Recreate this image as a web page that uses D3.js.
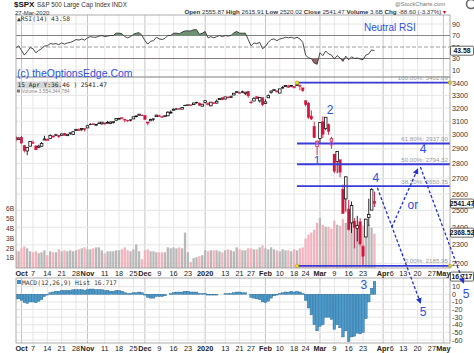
<!DOCTYPE html>
<html><head><meta charset="utf-8">
<script src="https://cdn.jsdelivr.net/npm/d3@7"></script>
<style>
body{margin:0;background:#fff}
svg{display:block}
text{font-family:"Liberation Sans",Arial,sans-serif}
.mono{font-family:"DejaVu Sans Mono","Liberation Mono",monospace}
</style>
</head><body>
<svg id="chart" width="474" height="353"></svg>
<script>
// ---------------- DATA ----------------
const firstDay = "2019-09-27", lastAxisDay = "2020-05-05";
const holidays = ["2019-11-28","2019-12-25","2020-01-01","2020-01-20","2020-02-17","2020-04-10"];
const prevCloseBeforeFirst = 2977.62;

const open = [
 2985.47,2967.07,2983.69,2924.78,2885.38,2918.56,
 2944.23,2920.40,2911.10,2918.55,2963.07,
 2965.81,2973.61,2989.68,3000.77,2996.84,
 2996.48,3010.73,2994.01,3014.78,3003.32,
 3032.12,3035.39,3039.74,3046.90,3050.72,
 3078.96,3080.80,3075.10,3087.02,3081.25,
 3080.33,3089.28,3084.18,3090.75,3107.92,
 3117.91,3127.45,3114.66,3108.49,3111.41,
 3117.44,3134.85,3145.49,3147.18,
 3143.85,3087.41,3103.50,3119.21,3134.62,
 3141.86,3135.36,3135.75,3141.23,3166.65,
 3183.63,3195.40,3195.21,3192.32,3223.33,
 3226.05,3225.45,3227.20,3247.23,
 3240.09,3215.18,3244.67,3226.36,
 3217.55,3241.86,3238.59,3266.03,3281.81,
 3271.13,3285.35,3282.27,3302.97,3323.66,
 3321.03,3330.02,3315.77,3333.10,
 3247.16,3255.35,3289.46,3256.45,3282.33,
 3235.66,3280.61,3324.91,3344.92,3335.54,
 3318.28,3365.87,3370.50,3365.90,3378.08,
 3369.04,3380.39,3380.45,3360.50,
 3257.61,3238.94,3139.90,3062.54,2916.90,
 2974.28,3096.46,3045.75,3075.70,2954.20,
 2863.89,2813.48,2825.60,2630.86,2569.99,
 2508.59,2425.66,2436.50,2393.48,2431.94,
 2290.71,2344.44,2457.77,2501.29,2555.87];
const high = [
 2987.28,2983.22,2992.53,2924.78,2911.13,2953.74,
 2959.75,2925.47,2929.32,2948.46,2993.28,
 2972.84,3003.28,2997.54,3008.29,3000.00,
 3007.33,3014.57,3004.78,3016.07,3027.39,
 3044.08,3047.87,3050.10,3046.90,3066.95,
 3085.20,3083.95,3078.34,3097.77,3093.09,
 3088.33,3102.61,3098.06,3097.20,3120.46,
 3124.17,3127.64,3118.97,3110.11,3112.87,
 3133.83,3142.69,3154.26,3150.30,
 3144.31,3094.97,3119.38,3119.45,3150.60,
 3148.87,3142.12,3143.98,3176.28,3182.68,
 3197.71,3198.22,3198.48,3205.48,3225.65,
 3227.78,3226.43,3240.08,3247.93,
 3240.92,3231.72,3258.14,3246.15,
 3246.84,3244.91,3267.07,3275.58,3282.99,
 3288.13,3294.25,3298.66,3317.11,3329.88,
 3329.79,3337.77,3326.88,3333.18,
 3258.85,3285.78,3293.47,3285.91,3282.33,
 3268.44,3306.92,3337.58,3347.96,3341.42,
 3352.26,3375.63,3381.47,3385.09,3380.69,
 3375.01,3393.52,3389.15,3360.76,
 3259.81,3246.99,3182.51,3097.07,2959.72,
 3090.96,3136.72,3130.97,3083.04,2985.93,
 2863.89,2882.59,2825.60,2660.95,2711.33,
 2562.98,2553.93,2453.57,2466.97,2453.01,
 2300.73,2449.71,2571.42,2637.01,2615.91];
const low = [
 2945.53,2967.07,2938.70,2874.93,2855.94,2918.56,
 2935.68,2892.66,2907.41,2917.12,2963.07,
 2962.94,2973.61,2985.20,2991.79,2976.31,
 2995.35,2995.04,2991.21,3000.42,3001.94,
 3032.12,3034.81,3025.96,3023.19,3050.72,
 3074.87,3072.15,3065.89,3080.23,3073.58,
 3075.82,3084.73,3078.80,3083.26,3104.60,
 3112.06,3113.47,3091.41,3094.55,3099.26,
 3117.44,3131.00,3143.41,3139.34,
 3110.78,3070.33,3102.53,3103.76,3134.62,
 3135.46,3126.09,3133.21,3138.47,3156.51,
 3183.63,3191.03,3191.14,3192.32,3216.03,
 3222.30,3220.51,3227.20,3234.37,
 3216.57,3212.03,3235.53,3222.34,
 3214.64,3232.43,3236.67,3263.67,3260.86,
 3268.43,3277.19,3280.69,3302.82,3318.86,
 3316.61,3320.04,3301.87,3281.53,
 3234.50,3253.22,3271.89,3242.80,3214.68,
 3235.66,3280.61,3313.75,3334.39,3322.12,
 3317.77,3352.72,3369.72,3360.52,3366.15,
 3355.61,3378.83,3341.02,3328.45,
 3214.65,3118.77,3108.99,2977.39,2855.84,
 2945.19,2976.63,3034.38,2999.83,2901.54,
 2734.43,2734.00,2707.22,2478.86,2492.37,
 2380.94,2367.04,2280.52,2319.78,2295.56,
 2191.86,2344.44,2407.53,2500.72,2520.02];
const close = [
 2961.79,2976.74,2940.25,2887.61,2910.63,2952.01,
 2938.79,2893.06,2919.40,2938.13,2970.27,
 2966.15,2995.68,2989.69,2997.95,2986.20,
 3006.72,2995.99,3004.52,3010.29,3022.55,
 3039.42,3036.89,3046.77,3037.56,3066.91,
 3078.27,3074.62,3076.78,3085.18,3093.08,
 3087.01,3091.84,3094.04,3096.63,3120.46,
 3122.03,3120.18,3108.46,3103.54,3110.29,
 3133.64,3140.52,3153.63,3140.98,
 3113.87,3093.20,3112.76,3117.43,3145.91,
 3135.96,3132.52,3141.63,3168.57,3168.80,
 3191.45,3192.52,3191.14,3205.37,3221.22,
 3224.01,3223.38,3239.91,3240.02,
 3221.29,3230.78,3257.85,3234.85,
 3246.28,3237.18,3253.05,3274.70,3265.35,
 3288.13,3283.15,3289.29,3316.81,3329.62,
 3320.79,3321.75,3325.54,3295.47,
 3243.63,3276.24,3273.40,3283.66,3225.52,
 3248.92,3297.59,3334.69,3345.78,3327.71,
 3352.09,3357.75,3379.45,3373.94,3380.16,
 3370.29,3386.15,3373.23,3337.75,
 3225.89,3128.21,3116.39,2978.76,2954.22,
 3090.23,3003.37,3130.12,3023.94,2972.37,
 2746.56,2882.23,2741.38,2480.64,2711.02,
 2386.13,2529.19,2398.10,2409.39,2304.92,
 2237.40,2447.33,2475.56,2630.07,2541.47];
// volume in billions of shares
const volume = [
 1.8,1.7,2.0,2.2,2.0,1.7,
 1.6,1.7,1.5,1.6,1.8,
 1.3,1.7,1.6,1.6,1.9,
 1.7,1.8,1.7,1.8,1.7,
 1.8,1.9,2.0,2.1,1.9,
 1.9,2.0,2.1,2.1,1.8,
 1.5,1.7,1.7,1.7,1.8,
 1.8,1.9,2.1,1.8,1.7,
 1.9,2.4,1.7,0.9,
 1.8,1.9,1.7,1.7,1.6,
 1.6,1.6,1.6,2.1,2.0,
 2.1,2.0,2.1,2.0,3.6,
 1.6,0.6,1.0,1.1,
 1.2,1.3,1.8,1.7,
 1.8,1.8,1.8,1.7,1.6,
 1.8,1.9,1.8,1.7,2.1,
 1.9,1.8,1.8,2.0,
 2.0,1.9,1.9,2.1,2.3,
 2.0,1.9,2.1,1.9,1.8,
 1.7,1.9,1.8,1.8,1.7,
 1.9,1.8,2.0,2.1,
 3.0,3.4,3.6,3.9,4.6,
 5.1,4.4,4.2,4.2,4.0,
 4.8,4.4,4.3,5.0,4.6,
 4.3,4.7,4.8,4.4,4.6,
 4.3,4.6,4.4,4.1,3.5];
const rsi = [
 48,52,44,36,42,49,
 47,40,44,47,52,
 52,56,55,56,54,
 57,55,57,58,60,
 63,62,64,62,66,
 68,67,67,69,70,
 68,69,70,70,74,
 74,73,68,66,68,
 72,74,75,70,
 61,55,60,61,67,
 64,63,65,70,70,
 74,74,73,76,78,
 78,78,80,80,
 72,74,77,66,
 68,66,68,70,68,
 70,69,70,75,77,
 74,74,74,63,
 52,57,56,58,47,
 51,58,63,64,61,
 64,65,67,66,67,
 65,67,64,58,
 36,31,30,22,20,
 40,35,43,38,36,
 29,35,31,25,34,
 28,33,30,31,29,
 28,36,38,45,43.58];
const macdHist = [
 -6,-6,-8,-11,-12,-10,
 -10,-11,-9,-7,-3,
 -1,2,3,4,4,
 5,5,5,5,6,
 6,6,6,5,6,
 7,7,6,6,6,
 5,5,4,4,5,
 5,4,2,1,1,
 2,2,3,2,
 -1,-4,-5,-5,-3,
 -3,-3,-2,0,1,
 2,3,3,3,4,
 4,3,3,3,
 1,1,1,-1,
 -1,-1,-1,0,0,
 1,1,1,2,3,
 3,2,2,0,
 -4,-5,-6,-7,-10,
 -11,-9,-5,-2,-1,
 1,2,3,3,4,
 3,4,3,1,
 -8,-18,-27,-40,-48,
 -42,-40,-30,-30,-33,
 -46,-40,-44,-56,-48,
 -62,-56,-55,-51,-52,
 -50,-32,-10,8,16.717];

const tickDates = ["2019-10-01","2019-10-07","2019-10-14","2019-10-21","2019-10-28","2019-11-01","2019-11-11","2019-11-18","2019-11-25","2019-12-02","2019-12-09","2019-12-16","2019-12-23","2020-01-02","2020-01-13","2020-01-21","2020-01-27","2020-02-03","2020-02-10","2020-02-18","2020-02-24","2020-03-02","2020-03-09","2020-03-16","2020-03-23","2020-04-01","2020-04-06","2020-04-13","2020-04-20","2020-04-27","2020-05-01"];
const tickLabels = ["Oct","7","14","21","28","Nov","11","18","25","Dec","9","16","23","2020","13","21","27","Feb","10","18","24","Mar","9","16","23","Apr","6","13","20","27","May"];
const majorLabels = ["Oct","Nov","Dec","2020","Feb","Mar","Apr","May"];
const priceTicks = [2200,2300,2400,2500,2600,2700,2800,2900,3000,3100,3200,3300,3400];
const rsiTicks = [10,30,50,70,90];
const volTicks = [1,2,3,4,5,6];
const volTickLabels = ["1B","2B","3B","4B","5B","6B"];
const macdTicks = [10,0,-10,-20,-30,-40,-50,-60];

const fibStartDate = "2020-02-19";
const fibPct = ["100.00%","61.80%","50.00%","38.20%","0.00%"];
const fibPrice = [3402.89,2937.90,2794.32,2650.75,2185.95];

// Elliott-wave projections: [sessions after last bar, price]
const projA = [[1,2640],[16,2000]];
const projUp = [[6,2400],[15,2760]];
const projB = [[16,2776],[31,2100]];
// wave labels: [text, bar index (fractional), price]
const waveText = ["2","1","3","4","4","or","5","5"];
const waveIdx = [109.5,105,121.3,125.5,141.9,138.4,141.9,156.9];
const wavePrice = [3185,2817,2088,2704,2900,2532,1956,2045];

// ---------------- LAYOUT ----------------
const svg = d3.select("#chart");
const L = 16, R = 450;
const P = {rsi:[15,77], main:[77,268], macd:[278,343]};

// trading-day categories
const days = [];
{
  let d = new Date(firstDay + "T00:00:00Z");
  const end = new Date(lastAxisDay + "T00:00:00Z");
  while (d <= end) {
    const s = d.toISOString().slice(0,10), w = d.getUTCDay();
    if (w !== 0 && w !== 6 && !holidays.includes(s)) days.push(s);
    d.setUTCDate(d.getUTCDate() + 1);
  }
}
const dayIdx = new Map(days.map((d,i)=>[d,i]));
const N = close.length;
const x = d3.scaleLinear().domain([0, N-1]).range([15.76, 374.5]);
const yP = d3.scaleLog().domain([2200,3400]).range([263.3,83]);
const yV = d3.scaleLinear().domain([0,6]).range([268,209]);
const yR = d3.scaleLinear().domain([0,100]).range([75.75,18.25]);
const yM = d3.scaleLinear().domain([-60,10]).range([340,286.7]);

const defs = svg.append("defs");
Object.entries(P).forEach(([k,[t,b]])=>{
  defs.append("clipPath").attr("id","clip-"+k).append("rect").attr("x",L).attr("y",t).attr("width",R-L).attr("height",b-t);
});
defs.append("clipPath").attr("id","clip-above70").append("rect").attr("x",L).attr("y",P.rsi[0]).attr("width",R-L).attr("height",yR(70)-P.rsi[0]);
defs.append("clipPath").attr("id","clip-below30").append("rect").attr("x",L).attr("y",yR(30)).attr("width",R-L).attr("height",P.rsi[1]-yR(30));
defs.append("marker").attr("id","arr").attr("viewBox","0 0 10 10").attr("refX",8).attr("refY",5)
  .attr("markerWidth",4.5).attr("markerHeight",4.5).attr("orient","auto")
  .append("path").attr("d","M0,0L10,5L0,10z").attr("fill","#2233cc");

const tickX = tickDates.map(d=>x(dayIdx.get(d)));

// grids
function vgrid(panel){
  const [t,b] = P[panel];
  svg.append("g").selectAll("line").data(tickDates).join("line")
    .attr("x1",(d,i)=>tickX[i]).attr("x2",(d,i)=>tickX[i]).attr("y1",t).attr("y2",b)
    .attr("stroke",(d,i)=>majorLabels.includes(tickLabels[i])?"#c4c4c4":"#e6e6e6").attr("stroke-width",1);
}
["rsi","main","macd"].forEach(vgrid);

// RSI panel
const gR = svg.append("g").attr("clip-path","url(#clip-rsi)");
gR.selectAll("line.h").data(rsiTicks).join("line")
  .attr("x1",L).attr("x2",R).attr("y1",d=>yR(d)).attr("y2",d=>yR(d))
  .attr("stroke",d=>(d===30||d===70)?"#8a8a8a":(d===50?"#a0a0a0":"#e6e6e6"))
  .attr("stroke-dasharray",d=>d===50?"4,2":null);
const areaTop = d3.area().x((d,i)=>x(i)).y0(yR(70)).y1(d=>yR(d));
const areaBot = d3.area().x((d,i)=>x(i)).y0(yR(30)).y1(d=>yR(d));
gR.append("g").attr("clip-path","url(#clip-above70)").append("path").datum(rsi).attr("d",areaTop).attr("fill","#55805a").attr("fill-opacity",0.85);
gR.append("g").attr("clip-path","url(#clip-below30)").append("path").datum(rsi).attr("d",areaBot).attr("fill","#8a4848").attr("fill-opacity",0.85);
gR.append("path").datum(rsi).attr("d",d3.line().x((d,i)=>x(i)).y(d=>yR(d)))
  .attr("fill","none").attr("stroke","#333").attr("stroke-width",0.9);

// MAIN panel
const gM = svg.append("g").attr("clip-path","url(#clip-main)");
gM.selectAll("line.h").data(priceTicks).join("line")
  .attr("x1",L).attr("x2",R).attr("y1",d=>yP(d)).attr("y2",d=>yP(d)).attr("stroke","#e6e6e6");
const prev = i => i===0 ? prevCloseBeforeFirst : close[i-1];
gM.append("g").selectAll("rect").data(volume).join("rect")
  .attr("x",(d,i)=>x(i)-1.2).attr("width",2.3)
  .attr("y",d=>yV(d)).attr("height",d=>yV(0)-yV(d))
  .attr("fill",(d,i)=>close[i]<prev(i)?"#f2b3bd":"#b8b8b8");

// fib lines
const fx0 = x(dayIdx.get(fibStartDate));
const gF = svg.append("g");
gF.selectAll("line").data(fibPrice).join("line")
  .attr("x1",fx0).attr("x2",R).attr("y1",d=>yP(d)).attr("y2",d=>yP(d))
  .attr("stroke","#3a3ad8").attr("stroke-width",1.8);
gF.selectAll("text").data(fibPrice).join("text")
  .attr("x",R-2).attr("y",d=>yP(d)-2.5).attr("text-anchor","end")
  .attr("font-size",6.2).attr("fill","#9a9a9a")
  .text((d,i)=>fibPct[i]+": "+d.toFixed(2));
[fibPrice[0], fibPrice[4]].forEach(p=>{
  [fx0, R].forEach(cx=>gF.append("circle").attr("cx",cx).attr("cy",yP(p)).attr("r",1.8)
    .attr("fill","#f2e41c").attr("stroke","#a09000").attr("stroke-width",0.5));
});

// candles
const gC = gM.append("g");
d3.range(N).forEach(i=>{
  const col = close[i] < prev(i) ? "#d4143c" : "#111";
  const cx = x(i);
  gC.append("line").attr("x1",cx).attr("x2",cx).attr("y1",yP(high[i])).attr("y2",yP(low[i]))
    .attr("stroke",col).attr("stroke-width",0.9);
  const top = yP(Math.max(open[i],close[i])), bot = yP(Math.min(open[i],close[i]));
  const hollow = close[i] >= open[i];
  gC.append("rect").attr("x",cx-1.3).attr("width",2.6)
    .attr("y",top).attr("height",Math.max(0.8,bot-top))
    .attr("fill",hollow?"#fff":col).attr("stroke",col).attr("stroke-width",hollow?0.8:0.3);
});

// MACD panel
const gH = svg.append("g").attr("clip-path","url(#clip-macd)");
gH.selectAll("line.h").data(macdTicks).join("line")
  .attr("x1",L).attr("x2",R).attr("y1",d=>yM(d)).attr("y2",d=>yM(d)).attr("stroke","#e6e6e6");
gH.append("g").selectAll("rect").data(macdHist).join("rect")
  .attr("x",(d,i)=>x(i)-1.3).attr("width",2.6)
  .attr("y",d=>Math.min(yM(d),yM(0))).attr("height",d=>Math.abs(yM(d)-yM(0)))
  .attr("fill","#4a9bcb").attr("stroke","#1f5e8c").attr("stroke-width",0.4);

// panel borders
Object.values(P).forEach(([t,b])=>{
  svg.append("rect").attr("x",L).attr("y",t).attr("width",R-L).attr("height",b-t)
    .attr("fill","none").attr("stroke","#9a9a9a").attr("stroke-width",0.8);
});

// right axes
const axTxt = (y,t)=>svg.append("text").attr("x",452).attr("y",y).attr("dy","0.35em").attr("font-size",7.2).attr("fill","#333").text(t);
priceTicks.forEach(p=>axTxt(yP(p),p));
rsiTicks.forEach(r=>axTxt(yR(r),r));
macdTicks.forEach(m=>axTxt(yM(m),m));
// left volume axis
volTicks.forEach((v,i)=>svg.append("text").attr("x",14).attr("y",yV(v)).attr("dy","0.35em").attr("text-anchor","end").attr("font-size",6.5).attr("fill","#333").text(volTickLabels[i]));

// boxed last-value labels
function boxLabel(y,t){
  const g = svg.append("g");
  g.append("rect").attr("x",450.5).attr("y",y-4.5).attr("width",23).attr("height",9).attr("fill","#fff").attr("stroke","#222").attr("stroke-width",0.7).attr("rx",1);
  g.append("text").attr("x",462).attr("y",y).attr("dy","0.35em").attr("text-anchor","middle").attr("font-size",6.8).attr("font-weight","bold").attr("fill","#111").text(t);
}
boxLabel(yR(rsi[N-1]), rsi[N-1].toFixed(2));
boxLabel(yP(close[N-1]), close[N-1].toFixed(2));
boxLabel(yP(2369), "2368.52");
boxLabel(yM(16.717)-5, macdHist[N-1].toFixed(3));

// x axis labels
function xLabels(y){
  svg.append("g").selectAll("text").data(tickLabels).join("text")
    .attr("x",(d,i)=>tickX[i]).attr("y",y).attr("text-anchor","middle")
    .attr("font-size",7.3).attr("fill","#222")
    .attr("font-weight",d=>majorLabels.includes(d)?"bold":"normal").text(d=>d);
}
xLabels(276); xLabels(351);

// projections
const lastI = N-1;
[projA, projUp, projB].forEach(seg=>{
  svg.append("path").datum(seg)
    .attr("d",d3.line().x(d=>x(lastI+d[0])).y(d=>yP(d[1])))
    .attr("fill","none").attr("stroke","#2233cc").attr("stroke-width",1.3)
    .attr("stroke-dasharray","3,2").attr("marker-end","url(#arr)");
});
// pink markers
[[105,2928],[110,2936]].forEach(([i,p])=>{
  svg.append("circle").attr("cx",x(i)).attr("cy",yP(p)).attr("r",1.7).attr("fill","none").attr("stroke","#e05aa0").attr("stroke-width",0.9);
});
// wave labels
waveText.forEach((t,k)=>{
  svg.append("text").attr("x",x(waveIdx[k])).attr("y",yP(wavePrice[k])).attr("dy","0.35em")
    .attr("text-anchor","middle").attr("font-size",12).attr("fill","#3050dd").text(t);
});

// panel texts
svg.append("text").attr("x",364).attr("y",31).attr("font-size",10).attr("fill","#2f4fe0").text("Neutral RSI");
svg.append("text").attr("x",17).attr("y",77).attr("font-size",10.5).attr("fill","#2f4fe0").text("(c) theOptionsEdge.Com");
svg.append("text").attr("class","mono").attr("x",17).attr("y",20.5).attr("font-size",6.3).attr("fill","#333").text("\u25B2RSI(14) 43.58");
const lab = svg.append("g");
lab.append("rect").attr("x",17).attr("y",81.5).attr("width",44).attr("height",7).attr("fill","#d6d6d6");
lab.append("text").attr("class","mono").attr("x",17.5).attr("y",87).attr("font-size",6.2).attr("fill","#222").text("15 Apr Y:36.46 ) 2541.47");
lab.append("rect").attr("x",17).attr("y",89.5).attr("width",3).attr("height",3).attr("fill","#777");
lab.append("text").attr("x",21.5).attr("y",92.5).attr("font-size",4.8).attr("fill","#888").text("Volume 3,554,344,784");
svg.append("rect").attr("x",17).attr("y",280).attr("width",4).attr("height",4).attr("fill","#3b8fc4");
svg.append("text").attr("class","mono").attr("x",22).attr("y",285).attr("font-size",6.3).attr("fill","#333").text("MACD(12,26,9) Hist 16.717");

// header
svg.append("text").attr("x",14).attr("y",7).attr("font-size",8).attr("font-weight","bold").attr("fill","#111").text("$SPX");
svg.append("text").attr("x",37).attr("y",6.5).attr("font-size",6.3).attr("fill","#333").text("S&P 500 Large Cap Index  INDX");
svg.append("text").attr("x",15).attr("y",14.5).attr("font-size",6).attr("fill","#333").text("27-Mar-2020");
const hdr = svg.append("text").attr("x",446).attr("y",14).attr("text-anchor","end").attr("font-size",6.2).attr("fill","#333");
[["Open ",1],["2555.87 ",0],["High ",1],["2615.91 ",0],["Low ",1],["2520.02 ",0],["Close ",1],["2541.47 ",0],["Volume ",1],["3.6B ",0],["Chg ",1],["-88.60 (-3.37%) ",0],["\u25BE",0]]
  .forEach(([t,b])=>hdr.append("tspan").attr("font-weight",b?"bold":"normal").attr("fill",t==="\u25BE"?"#c00":null).text(t));
svg.append("text").attr("x",445).attr("y",6).attr("text-anchor","end").attr("font-size",5.8).attr("fill","#777").text("@StockCharts.com");
svg.append("circle").attr("cx",471).attr("cy",4).attr("r",4.5).attr("fill","none").attr("stroke","#666").attr("stroke-width",1.6);
</script>
</body></html>
